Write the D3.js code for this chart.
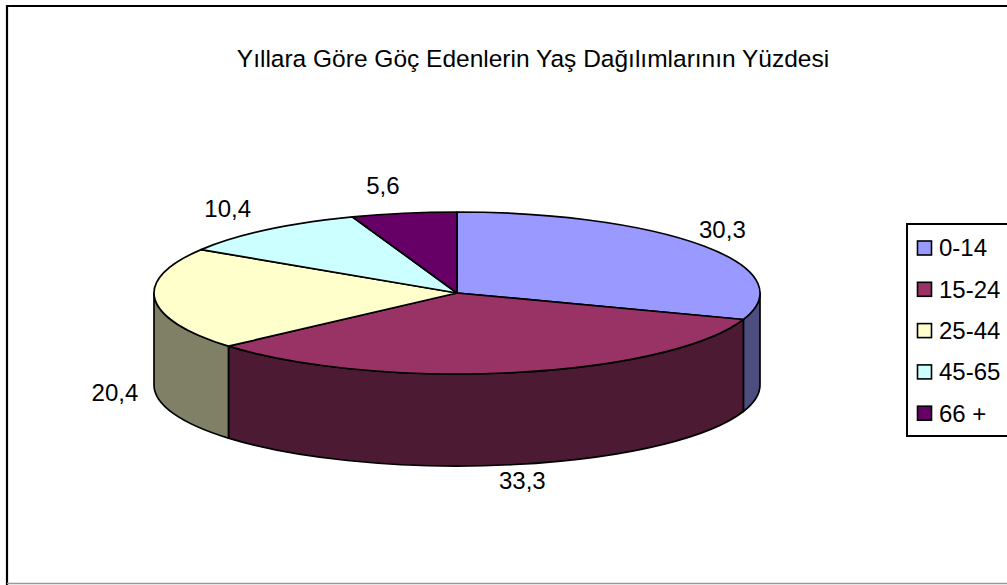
<!DOCTYPE html>
<html>
<head>
<meta charset="utf-8">
<script src="https://cdn.jsdelivr.net/npm/d3@7"></script>
<style>
  body { margin: 0; background: #fff; }
  text { font-family: Arial, "Liberation Sans", sans-serif; fill: #000; }
</style>
</head>
<body>
<svg width="1007" height="585"></svg>
<script>
// data
const categories = ["0-14", "15-24", "25-44", "45-65", "66 +"];
const values = [30.3, 33.3, 20.4, 10.4, 5.6];
const labels = ["30,3", "33,3", "20,4", "10,4", "5,6"];
const colors = ["#9999FF", "#993366", "#FFFFCC", "#CCFFFF", "#660066"];
const title = "Yıllara Göre Göç Edenlerin Yaş Dağılımlarının Yüzdesi";

const svg = d3.select("svg"),
  width = +svg.attr("width"),
  height = +svg.attr("height");

// chart frame (cut off at the right and bottom)
svg.append("path")
  .attr("d", `M7,${height} L7,6 L${width},6`)
  .attr("fill", "none")
  .attr("stroke", "#000")
  .attr("stroke-width", 2.2);
svg.append("line")
  .attr("x1", 7).attr("x2", width)
  .attr("y1", 583.5).attr("y2", 583.5)
  .attr("stroke", "#999").attr("stroke-width", 1.5);

svg.append("text")
  .attr("x", 533).attr("y", 58)
  .attr("dy", "0.35em")
  .attr("text-anchor", "middle")
  .style("font-size", "24.5px")
  .text(title);

// 3d pie geometry
const cx = 457, cy = 293, rx = 303, ry = 81, depth = 92;
const pt = (a, dy = 0) => [cx + rx * Math.sin(a), cy - ry * Math.cos(a) + dy];

const pie = d3.pie().sort(null).value(d => d.value);
const arcs = pie(categories.map((c, i) => ({ cat: c, value: values[i], color: colors[i], label: labels[i] })));

const half = c => { const r = d3.rgb(c); return d3.rgb(r.r / 2, r.g / 2, r.b / 2).formatHex(); };

function topPath(d) {
  const p0 = pt(d.startAngle), p1 = pt(d.endAngle);
  const large = d.endAngle - d.startAngle > Math.PI ? 1 : 0;
  return `M${cx},${cy}L${p0}A${rx},${ry} 0 ${large} 1 ${p1}Z`;
}

function sidePath(d) {
  const s = Math.max(d.startAngle, Math.PI / 2), e = Math.min(d.endAngle, 3 * Math.PI / 2);
  if (e <= s) return null;
  const a = pt(s), b = pt(e), b2 = pt(e, depth), a2 = pt(s, depth);
  return `M${a}A${rx},${ry} 0 0 1 ${b}L${b2}A${rx},${ry} 0 0 0 ${a2}Z`;
}

const g = svg.append("g");

g.selectAll("path.side")
  .data(arcs.filter(d => sidePath(d)))
  .join("path")
  .attr("class", "side")
  .attr("d", sidePath)
  .attr("fill", d => half(d.data.color))
  .attr("stroke", "#000")
  .attr("stroke-width", 1.7)
  .attr("stroke-linejoin", "round");

g.selectAll("path.top")
  .data(arcs)
  .join("path")
  .attr("class", "top")
  .attr("d", topPath)
  .attr("fill", d => d.data.color)
  .attr("stroke", "#000")
  .attr("stroke-width", 1.7)
  .attr("stroke-linejoin", "round");

// data labels outside the slices
const gx = 40, gyBack = 28, gyFront = 16, backShift = -14;
g.selectAll("text.lbl")
  .data(arcs)
  .join("text")
  .attr("class", "lbl")
  .attr("x", d => {
    const m = (d.startAngle + d.endAngle) / 2, c = Math.cos(m);
    return cx + (rx + gx) * Math.sin(m) + (c > 0 ? backShift : 0);
  })
  .attr("y", d => {
    const m = (d.startAngle + d.endAngle) / 2, c = Math.cos(m);
    return c < 0 ? cy - (ry + gyFront) * c + depth : cy - (ry + gyBack) * c;
  })
  .attr("dy", "0.35em")
  .attr("text-anchor", "middle")
  .style("font-size", "24px")
  .text(d => d.data.label);

// legend
const legend = svg.append("g").attr("transform", "translate(907,224)");
legend.append("rect")
  .attr("width", 140).attr("height", 212)
  .attr("fill", "#fff").attr("stroke", "#000").attr("stroke-width", 2);

const item = legend.selectAll("g.item")
  .data(categories)
  .join("g")
  .attr("class", "item")
  .attr("transform", (d, i) => `translate(0,${24 + i * 41.3})`);

item.append("rect")
  .attr("x", 10.5).attr("y", -7)
  .attr("width", 14).attr("height", 14)
  .attr("fill", (d, i) => colors[i])
  .attr("stroke", "#000").attr("stroke-width", 1.6);

item.append("text")
  .attr("x", 32).attr("y", 0)
  .attr("dy", "0.35em")
  .style("font-size", "24px")
  .text(d => d);
</script>
</body>
</html>
